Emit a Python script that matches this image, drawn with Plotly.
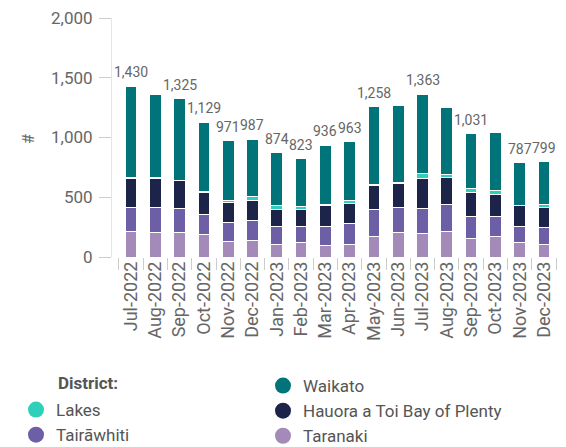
import plotly.graph_objects as go

months = ["Jul-2022", "Aug-2022", "Sep-2022", "Oct-2022", "Nov-2022", "Dec-2022",
          "Jan-2023", "Feb-2023", "Mar-2023", "Apr-2023", "May-2023", "Jun-2023",
          "Jul-2023", "Aug-2023", "Sep-2023", "Oct-2023", "Nov-2023", "Dec-2023"]

taranaki   = [217, 208, 203, 186, 130, 141, 104, 119, 96, 104, 175, 208, 195, 217, 153, 175, 119, 104]
tairawhiti = [198, 207, 204, 170, 158, 167, 155, 140, 163, 178, 220, 207, 212, 220, 186, 164, 140, 142]
hauora     = [246, 246, 234, 186, 170, 169, 142, 136, 170, 167, 203, 204, 254, 227, 197, 183, 170, 169]
lakes      = [3, 3, 3, 4, 19, 26, 34, 31, 8, 28, 5, 5, 36, 25, 34, 31, 3, 28]
waikato    = [766, 696, 681, 583, 494, 484, 439, 397, 499, 486, 655, 646, 666, 561, 461, 487, 355, 356]

# total labels that are visible in the reference (others hidden by overlap)
label_shown = [True, False, True, True, True, True, True, True, True, True, True, False,
               True, False, True, False, True, True]

series = [
    ("Taranaki", taranaki, "#a48ab8", "legend2"),
    ("Tairāwhiti", tairawhiti, "#6d5fa6", "legend"),
    ("Hauora a Toi Bay of Plenty", hauora, "#1d2449", "legend2"),
    ("Lakes", lakes, "#2fd0b9", "legend"),
    ("Waikato", waikato, "#007479", "legend2"),
]

FONT = "Roboto"
GRAY = "#666666"
W, H = 566, 447
L, R, T, B = 112, 8, 18, 190

fig = go.Figure()
for name, vals, color, lg in series:
    fig.add_trace(go.Bar(
        x=months, y=vals, name=name, marker_color=color,
        marker_line_color="white", marker_line_width=1,
        showlegend=False, hovertemplate=name + ": %{y}<extra></extra>",
    ))

# legend entries (circle symbols), ordered as in reference
legend_order = ["Lakes", "Tairāwhiti", "Waikato", "Hauora a Toi Bay of Plenty", "Taranaki"]
lookup = {s[0]: s for s in series}
for name in legend_order:
    _, _, color, lg = lookup[name]
    fig.add_trace(go.Scatter(
        x=[None], y=[None], mode="markers", name=name, legendgroup=name,
        marker=dict(symbol="circle", size=16, color=color),
        legend=lg, showlegend=True,
    ))

totals = [sum(v) for v in zip(taranaki, tairawhiti, hauora, lakes, waikato)]
for m, t, show in zip(months, totals, label_shown):
    if show:
        fig.add_annotation(x=m, y=t, text=f"{t:,}", showarrow=False,
                           yanchor="bottom", yshift=4,
                           font=dict(family=FONT, size=14, color=GRAY))

pw, ph = W - L - R, H - T - B
fig.add_annotation(xref="paper", yref="paper", x=(56 - L) / pw, y=(H - B - 383) / ph,
                   xanchor="left", yanchor="middle", showarrow=False,
                   text="<b>District:</b>", font=dict(family=FONT, size=17, color="#555555"))

# y-axis title
fig.add_annotation(xref="paper", yref="paper", x=(28 - L) / pw, y=(H - B - 139) / ph,
                   xanchor="center", yanchor="middle", showarrow=False, textangle=-90,
                   text="#", font=dict(family=FONT, size=16, color=GRAY))

legend_common = dict(xref="container", yref="container", xanchor="left", yanchor="top",
                     font=dict(family=FONT, size=17, color="#555555"),
                     bgcolor="rgba(0,0,0,0)", itemclick=False, traceorder="normal",
                     tracegroupgap=5.5)

fig.update_layout(
    width=W, height=H,
    margin=dict(l=L, r=R, t=T, b=B, autoexpand=False),
    barmode="stack", bargap=0.52,
    plot_bgcolor="white", paper_bgcolor="white",
    font=dict(family=FONT, color=GRAY),
    xaxis=dict(tickangle=-90, ticks="outside", tickson="boundaries", ticklen=12,
               tickcolor="#cccccc", showline=False, showgrid=False, automargin=False,
               tickfont=dict(family=FONT, size=18, color=GRAY)),
    yaxis=dict(range=[0, 2000], tickvals=[0, 500, 1000, 1500, 2000], tickformat=",",
               ticks="outside", ticklen=12, tickcolor="#cccccc", automargin=False,
               ticklabelstandoff=3,
               showline=True, linecolor="#e6e6e6", showgrid=False, zeroline=False,
               tickfont=dict(family=FONT, size=17, color=GRAY)),
    legend=dict(x=16 / W, y=(H - 392) / H, **legend_common),
    legend2=dict(x=263 / W, y=(H - 368) / H, **legend_common),
)

fig.write_html("out.html", config={"displayModeBar": False},
               post_script="document.body.style.margin='0px';document.body.style.padding='0px';")
